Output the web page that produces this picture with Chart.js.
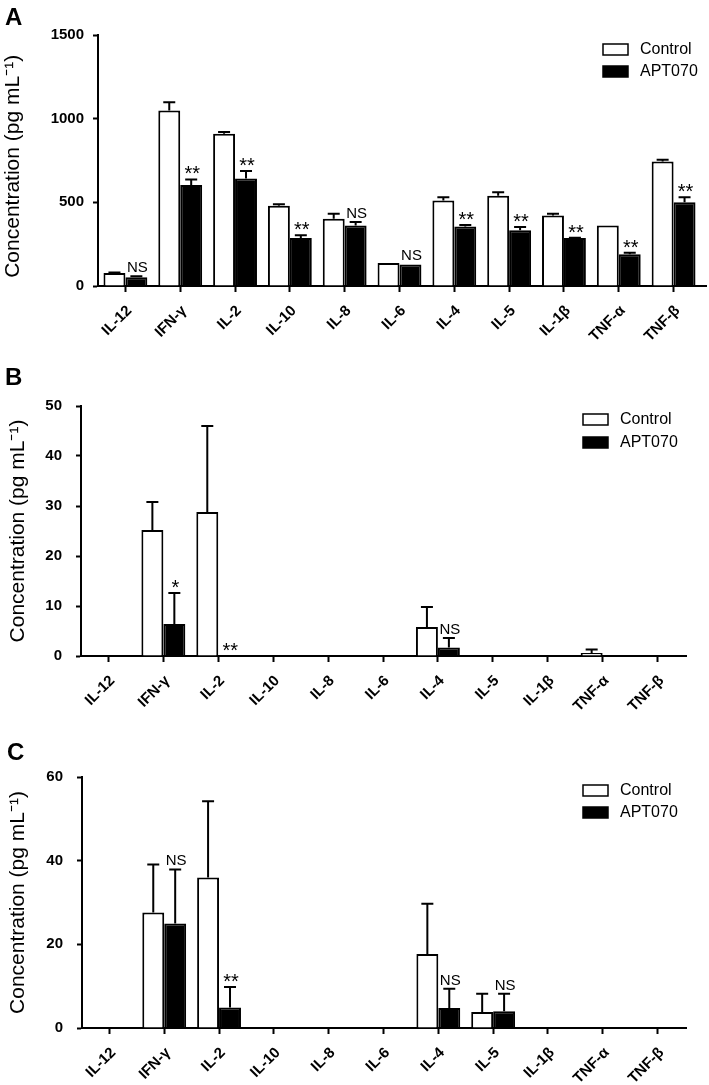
<!DOCTYPE html>
<html>
<head>
<meta charset="utf-8">
<script src="https://cdn.jsdelivr.net/npm/chart.js@4.4.1/dist/chart.umd.min.js"></script>
<style>
    html, body { margin: 0; padding: 0; background: #fff; }
    #wrap { position: relative; width: 709px; height: 1085px; }
    canvas { position: absolute; left: 0; }
</style>
</head>
<body>
<div id="wrap">
    <canvas id="chartA" width="709" height="360" style="top:0px"></canvas>
    <canvas id="chartB" width="709" height="370" style="top:360px"></canvas>
    <canvas id="chartC" width="709" height="355" style="top:730px"></canvas>
</div>
<script>
// data
const cytokines = ["IL-12", "IFN-γ", "IL-2", "IL-10", "IL-8", "IL-6", "IL-4", "IL-5", "IL-1β", "TNF-α", "TNF-β"];
const seriesNames = ["Control", "APT070"];

// panel A
const controlA    = [77, 1049, 910, 479, 402, 137, 511, 540, 422, 362, 744];
const controlErrA = [3, 49, 10, 10, 30, 0, 19, 20, 10, 0, 10];
const aptA        = [52, 604, 643, 287, 362, 129, 356, 333, 287, 190, 501];
const aptErrA     = [6, 33, 44, 16, 20, 0, 8, 19, 2, 8, 29];
const sigA        = ["NS", "**", "**", "**", "NS", "NS", "**", "**", "**", "**", "**"];
const yTicksA     = [0, 500, 1000, 1500];

// panel B
const controlB    = [0, 25.2, 28.8, 0, 0, 0, 5.8, 0, 0, 0.6, 0];
const controlErrB = [0, 5.6, 17.2, 0, 0, 0, 4.0, 0, 0, 0.7, 0];
const aptB        = [0, 6.4, 0, 0, 0, 0, 1.7, 0, 0, 0, 0];
const aptErrB     = [0, 6.2, 0, 0, 0, 0, 1.9, 0, 0, 0, 0];
const sigB        = ["", "*", "**", "", "", "", "NS", "", "", "", ""];
const yTicksB     = [0, 10, 20, 30, 40, 50];

// panel C
const controlC    = [0, 27.6, 36.0, 0, 0, 0, 17.7, 3.8, 0, 0, 0];
const controlErrC = [0, 11.5, 18.2, 0, 0, 0, 12.0, 4.4, 0, 0, 0];
const aptC        = [0, 25.0, 4.9, 0, 0, 0, 4.8, 4.0, 0, 0, 0];
const aptErrC     = [0, 12.9, 4.9, 0, 0, 0, 4.6, 4.2, 0, 0, 0];
const sigC        = ["", "NS", "**", "", "", "", "NS", "NS", "", "", ""];
const yTicksC     = [0, 20, 40, 60];

const FONT = '"Liberation Sans", Arial, sans-serif';

// error bars, significance marks, legend and panel letter
const figurePlugin = {
    id: 'figure',
    afterDatasetsDraw(chart, args, opts) {
        const { ctx } = chart;
        const yScale = chart.scales.y;
        ctx.save();
        ctx.strokeStyle = '#000';
        ctx.lineWidth = 2;
        chart.data.datasets.forEach((ds, di) => {
            chart.getDatasetMeta(di).data.forEach((bar, i) => {
                const err = ds.errors[i];
                if (!err) return;
                const top = yScale.getPixelForValue(ds.data[i] + err);
                ctx.beginPath();
                ctx.moveTo(bar.x, bar.y);
                ctx.lineTo(bar.x, top);
                ctx.moveTo(bar.x - 6, top);
                ctx.lineTo(bar.x + 6, top);
                ctx.stroke();
            });
        });

        // marks above the APT070 bars
        const apt = chart.data.datasets[1];
        const aptMeta = chart.getDatasetMeta(1);
        ctx.fillStyle = '#000';
        ctx.textAlign = 'center';
        ctx.textBaseline = 'alphabetic';
        opts.marks.forEach((mark, i) => {
            if (!mark) return;
            const top = yScale.getPixelForValue(apt.data[i] + apt.errors[i]);
            const x = aptMeta.data[i].x + 1;
            if (mark === 'NS') {
                ctx.font = '15px ' + FONT;
                ctx.fillText(mark, x, top - 4);
            } else {
                ctx.font = '20px ' + FONT;
                ctx.fillText(mark, x, top + 1);
            }
        });
        ctx.restore();
    },
    afterDraw(chart, args, opts) {
        const { ctx, chartArea } = chart;
        ctx.save();
        // x axis runs a little past the last category
        ctx.strokeStyle = '#000';
        ctx.lineWidth = 2;
        ctx.beginPath();
        ctx.moveTo(chartArea.right, chartArea.bottom);
        ctx.lineTo(chartArea.right + opts.axisExtra, chartArea.bottom);
        ctx.stroke();

        // legend
        chart.data.datasets.forEach((ds, i) => {
            const y = opts.legendY + i * opts.legendGap;
            ctx.fillStyle = ds.backgroundColor;
            ctx.fillRect(opts.legendX, y, 25, 11);
            ctx.lineWidth = 1.5;
            ctx.strokeRect(opts.legendX, y, 25, 11);
            ctx.fillStyle = '#000';
            ctx.font = '16px ' + FONT;
            ctx.textAlign = 'left';
            ctx.textBaseline = 'middle';
            ctx.fillText(ds.label, opts.legendX + 37, y + 5.5);
        });

        // panel letter
        ctx.font = 'bold 24px ' + FONT;
        ctx.textBaseline = 'alphabetic';
        ctx.fillText(opts.letter, opts.letterX, opts.letterY);
        ctx.restore();
    }
};

function buildChart(canvasId, panel) {
    const canvas = document.getElementById(canvasId);
    const area = panel.area;
    const height = canvas.height;

    return new Chart(canvas, {
        type: 'bar',
        data: {
            labels: cytokines,
            datasets: [
                {
                    label: seriesNames[0],
                    data: panel.control,
                    errors: panel.controlErr,
                    backgroundColor: '#ffffff',
                    borderColor: '#000000',
                    borderWidth: 2,
                    categoryPercentage: 0.8,
                    barPercentage: 1.0
                },
                {
                    label: seriesNames[1],
                    data: panel.apt,
                    errors: panel.aptErr,
                    backgroundColor: '#000000',
                    borderColor: '#000000',
                    borderWidth: 2,
                    categoryPercentage: 0.8,
                    barPercentage: 1.0
                }
            ]
        },
        options: {
            responsive: false,
            animation: false,
            layout: {
                padding: { top: area.top, right: canvas.width - area.right, left: 0, bottom: 0 }
            },
            plugins: {
                legend: { display: false },
                tooltip: { enabled: false },
                figure: {
                    marks: panel.marks,
                    letter: panel.letter,
                    letterX: panel.letterX,
                    letterY: panel.letterY,
                    legendX: panel.legendX,
                    legendY: panel.legendY,
                    legendGap: panel.legendGap,
                    axisExtra: panel.axisExtra
                }
            },
            scales: {
                x: {
                    offset: true,
                    grid: {
                        drawOnChartArea: false,
                        offset: false,
                        tickLength: 6,
                        tickWidth: 2,
                        tickColor: '#000'
                    },
                    border: { display: true, color: '#000', width: 2 },
                    ticks: {
                        autoSkip: false,
                        minRotation: 45,
                        maxRotation: 45,
                        padding: 10,
                        labelOffset: 4,
                        color: '#000',
                        font: { family: FONT, size: 15, weight: 'bold' }
                    },
                    afterFit: scale => { scale.height = height - area.bottom; }
                },
                y: {
                    min: 0,
                    max: panel.yTicks[panel.yTicks.length - 1],
                    afterBuildTicks: scale => {
                        scale.ticks = panel.yTicks.map(v => ({ value: v }));
                    },
                    grid: {
                        drawOnChartArea: false,
                        tickLength: 5,
                        tickWidth: 2,
                        tickColor: '#000'
                    },
                    border: { display: true, color: '#000', width: 2 },
                    ticks: {
                        padding: panel.tickPad,
                        color: '#000',
                        font: { family: FONT, size: 15, weight: 'bold' },
                        callback: value => String(value)
                    },
                    title: {
                        display: true,
                        text: 'Concentration (pg mL⁻¹)' + panel.titleTail,
                        color: '#000',
                        font: { family: FONT, size: 21 },
                        padding: { top: panel.titlePad, bottom: 0 }
                    },
                    afterFit: scale => { scale.width = area.left; }
                }
            }
        },
        plugins: [figurePlugin]
    });
}

buildChart('chartA', {
    control: controlA, controlErr: controlErrA, apt: aptA, aptErr: aptErrA,
    marks: sigA, yTicks: yTicksA,
    area: { left: 98, right: 701, top: 35, bottom: 286 },
    letter: 'A', letterX: 5, letterY: 25,
    legendX: 603, legendY: 44, legendGap: 22,
    axisExtra: 6, tickPad: 9, titlePad: 1, titleTail: '\u00a0\u00a0'
});

buildChart('chartB', {
    control: controlB, controlErr: controlErrB, apt: aptB, aptErr: aptErrB,
    marks: sigB, yTicks: yTicksB,
    area: { left: 81, right: 685, top: 46, bottom: 296 },
    letter: 'B', letterX: 5, letterY: 25,
    legendX: 583, legendY: 54, legendGap: 23,
    axisExtra: 2, tickPad: 14, titlePad: 6, titleTail: ''
});

buildChart('chartC', {
    control: controlC, controlErr: controlErrC, apt: aptC, aptErr: aptErrC,
    marks: sigC, yTicks: yTicksC,
    area: { left: 82, right: 685, top: 47, bottom: 298 },
    letter: 'C', letterX: 7, letterY: 30,
    legendX: 583, legendY: 55, legendGap: 22,
    axisExtra: 2, tickPad: 14, titlePad: 6, titleTail: ''
});
</script>
</body>
</html>
